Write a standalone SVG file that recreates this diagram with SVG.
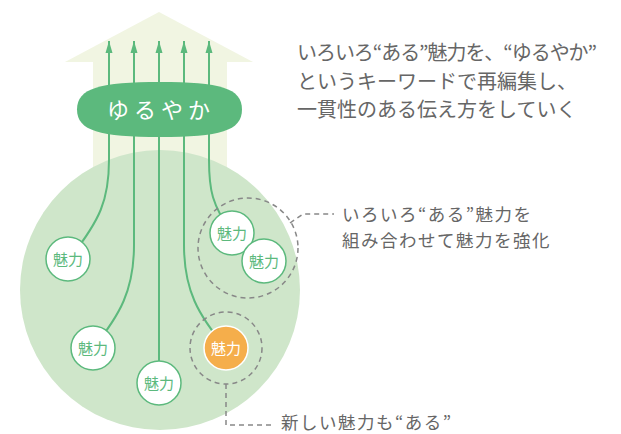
<svg xmlns="http://www.w3.org/2000/svg" width="621" height="434" viewBox="0 0 621 434">
<defs>
<marker id="ah" viewBox="0 0 8 12" refX="4" refY="0" markerWidth="8" markerHeight="12" markerUnits="userSpaceOnUse" orient="0">
<path d="M4,0 L7.5,12 L0.5,12 Z" fill="#5CB97D"/>
</marker>
<style>
text{font-family:"Noto Sans CJK JP","Noto Sans",sans-serif;}
.lbl{font-size:17.5px;letter-spacing:1.5px;fill:#666666;}
.cap{font-size:20px;fill:#666666;}
.conn{fill:none;stroke:#5CB97D;stroke-width:2;}
.dash{fill:none;stroke:#888888;stroke-width:1.5;stroke-dasharray:5 4;}
.node{fill:#FFFFFF;stroke:#5CB97D;stroke-width:1.5;}
.nt{font-size:15px;fill:#5CB97D;text-anchor:middle;}
</style>
</defs>
<rect width="621" height="434" fill="#FFFFFF"/>
<g id="house">
<path d="M159,12 L253,62 L227,62 L227,200 L93,200 L93,62 L65,62 Z" fill="#F1F5E2"/>
</g>
<g id="field">
<circle cx="160" cy="290" r="140" fill="#CFE6CA"/>
</g>
<g id="connectors">
<path class="conn" marker-start="url(#ah)" d="M109,41 L109,160 C109,200 100,220 70,258"/>
<path class="conn" marker-start="url(#ah)" d="M134,41 L134,245 C134,290 120,315 93,348"/>
<path class="conn" marker-start="url(#ah)" d="M159,41 L159,383"/>
<path class="conn" marker-start="url(#ah)" d="M184,41 L184,245 C184,290 198,315 226,348"/>
<path class="conn" marker-start="url(#ah)" d="M209,41 L209,160 C209,190 212,205 232,233"/>
<path class="dash" d="M290,223 L303,214 L334,214"/>
<path class="dash" d="M226,384 L226,425 L272,425"/>
</g>
<g id="yuruyaka">
<path d="M77,109.5 C77,88 100,82 160,82 C220,82 242,88 242,109.5 C242,131 220,137 160,137 C100,137 77,131 77,109.5 Z" fill="#5CB97D"/>
<text x="161" y="118" font-size="22" fill="#FFFFFF" text-anchor="middle" letter-spacing="5">ゆるやか</text>
</g>
<g id="group-circle">
<circle class="dash" cx="248" cy="248" r="50"/>
</g>
<g id="new-circle">
<circle class="dash" cx="226" cy="348" r="36"/>
</g>
<g id="node1"><circle class="node" cx="68" cy="259" r="22"/><text class="nt" x="68" y="264.5">魅力</text></g>
<g id="node2"><circle class="node" cx="93" cy="348" r="22"/><text class="nt" x="93" y="353.5">魅力</text></g>
<g id="node3"><circle class="node" cx="159" cy="383" r="22"/><text class="nt" x="159" y="388.5">魅力</text></g>
<g id="node4"><circle cx="226" cy="348" r="22" fill="#F5AE4B" stroke="#FFFFFF" stroke-width="1.5"/><text class="nt" x="226" y="353.5" style="fill:#FFFFFF">魅力</text></g>
<g id="node5"><circle class="node" cx="232" cy="233" r="22"/><text class="nt" x="232" y="238.5">魅力</text></g>
<g id="node6"><circle class="node" cx="264" cy="261" r="22"/><text class="nt" x="264" y="266.5">魅力</text></g>
<g id="caption">
<text class="cap" x="297" y="60" textLength="300">いろいろ“ある”魅力を、“ゆるやか”</text>
<text class="cap" x="297" y="89">というキーワードで再編集し、</text>
<text class="cap" x="297" y="117">一貫性のある伝え方をしていく</text>
</g>
<g id="label-combine">
<text class="lbl" x="342" y="221">いろいろ“ある”魅力を</text>
<text class="lbl" x="342" y="247">組み合わせて魅力を強化</text>
</g>
<g id="label-new">
<text class="lbl" x="281" y="429">新しい魅力も“ある”</text>
</g>
</svg>
